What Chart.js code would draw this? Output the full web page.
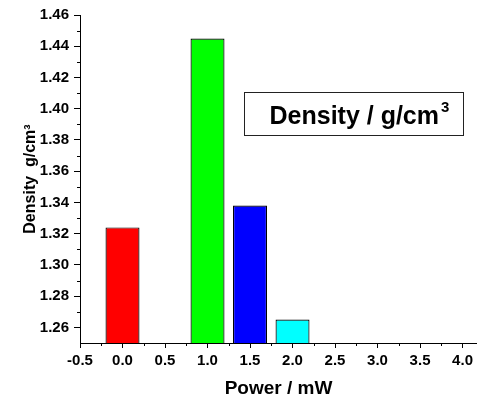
<!DOCTYPE html>
<html>
<head>
<meta charset="utf-8">
<script src="https://cdn.jsdelivr.net/npm/chart.js@4/dist/chart.umd.min.js"></script>
<style>
  html, body { margin: 0; padding: 0; background: #fff; }
  #wrap { width: 477px; height: 398px; }
</style>
</head>
<body>
<div id="wrap"><canvas id="densityChart" width="477" height="398"></canvas></div>
<script>
  // data
  const powers = [0.0, 1.0, 1.5, 2.0];
  const densities = [1.324, 1.445, 1.338, 1.265];
  const barColors = ['#ff0000', '#00ff00', '#0000ff', '#00ffff'];
  const xTicks = [-0.5, 0.0, 0.5, 1.0, 1.5, 2.0, 2.5, 3.0, 3.5, 4.0];
  const yTicks = [1.26, 1.28, 1.30, 1.32, 1.34, 1.36, 1.38, 1.40, 1.42, 1.44, 1.46];
  const xMinor = [-0.25, 0.25, 0.75, 1.25, 1.75, 2.25, 2.75, 3.25, 3.75];
  const yMinor = [1.27, 1.29, 1.31, 1.33, 1.35, 1.37, 1.39, 1.41, 1.43, 1.45];

  const fontFamily = '"Liberation Sans", Arial, sans-serif';

  // kreski pomocnicze (minor ticks)
  const minorTicks = {
    id: 'minorTicks',
    afterDraw(chart) {
      const c = chart.ctx;
      const xs = chart.scales.x;
      const ys = chart.scales.y;
      c.save();
      c.strokeStyle = '#000';
      c.lineWidth = 1;
      c.beginPath();
      xMinor.forEach(function (v) {
        const px = Math.round(xs.getPixelForValue(v)) + 0.5;
        c.moveTo(px, ys.bottom);
        c.lineTo(px, ys.bottom + 3);
      });
      yMinor.forEach(function (v) {
        const py = Math.round(ys.getPixelForValue(v)) + 0.5;
        c.moveTo(xs.left, py);
        c.lineTo(xs.left - 3, py);
      });
      c.stroke();
      c.restore();
    }
  };

  // ramka z opisem
  const labelBox = {
    id: 'labelBox',
    afterDraw(chart) {
      const c = chart.ctx;
      const xs = chart.scales.x;
      const ys = chart.scales.y;
      const left = Math.round(xs.getPixelForValue(1.43)) + 0.5;
      const right = Math.round(xs.getPixelForValue(4.0)) + 0.5;
      const top = Math.round(ys.getPixelForValue(1.4104)) + 0.5;
      const bottom = Math.round(ys.getPixelForValue(1.3831)) + 0.5;
      c.save();
      c.strokeStyle = '#222';
      c.lineWidth = 1;
      c.strokeRect(left, top, right - left, bottom - top);
      c.fillStyle = '#000';
      c.textBaseline = 'alphabetic';
      c.textAlign = 'left';
      c.font = 'bold 25px ' + fontFamily;
      const main = 'Density / g/cm';
      c.fillText(main, left + 25, top + 31);
      const w = c.measureText(main).width;
      c.font = 'bold 15px ' + fontFamily;
      c.fillText('3', left + 25 + w + 2, top + 19.5);
      c.restore();
    }
  };

  const ctx = document.getElementById('densityChart').getContext('2d');

  const chart = new Chart(ctx, {
    type: 'bar',
    data: {
      datasets: [{
        data: powers.map(function (p, i) { return { x: p, y: densities[i] }; }),
        backgroundColor: barColors,
        borderColor: '#000',
        borderWidth: 1.2,
        base: 1.25,
        barPercentage: 1.0,
        categoryPercentage: 0.8,
      }]
    },
    options: {
      responsive: false,
      animation: false,
      events: [],
      layout: { padding: { top: 15, right: 0, left: 0, bottom: 0 } },
      plugins: {
        legend: { display: false },
        tooltip: { enabled: false },
      },
      scales: {
        x: {
          type: 'linear',
          min: -0.5,
          max: 4.17,
          offset: false,
          afterBuildTicks: function (scale) {
            scale.ticks = xTicks.map(function (v) { return { value: v }; });
          },
          afterFit: function (scale) { scale.height = 55; },
          grid: {
            offset: false,
            drawOnChartArea: false,
            drawTicks: true,
            tickLength: 5,
            color: '#000',
          },
          border: { display: true, color: '#000', width: 1 },
          ticks: {
            color: '#000',
            padding: 4,
            maxRotation: 0,
            autoSkip: false,
            font: { family: fontFamily, size: 15, weight: 'bold' },
            callback: function (v) { return Number(v).toFixed(1); },
          },
          title: {
            display: true,
            text: 'Power / mW',
            color: '#000',
            font: { family: fontFamily, size: 19, weight: 'bold', lineHeight: 1 },
            padding: { top: 0, bottom: 0 },
          },
        },
        y: {
          min: 1.25,
          max: 1.46,
          afterBuildTicks: function (scale) {
            scale.ticks = yTicks.map(function (v) { return { value: v }; });
          },
          afterFit: function (scale) { scale.width = 80; },
          grid: {
            drawOnChartArea: false,
            drawTicks: true,
            tickLength: 6,
            color: '#000',
          },
          border: { display: true, color: '#000', width: 1 },
          ticks: {
            color: '#000',
            padding: 5,
            autoSkip: false,
            font: { family: fontFamily, size: 15, weight: 'bold' },
            callback: function (v) { return Number(v).toFixed(2); },
          },
          title: {
            display: true,
            text: 'Density  g/cm\u00b3',
            color: '#000',
            font: { family: fontFamily, size: 16, weight: 'bold', lineHeight: 1 },
            padding: { top: 23, bottom: 0 },
          },
        },
      },
    },
    plugins: [minorTicks, labelBox],
  });
</script>
</body>
</html>
